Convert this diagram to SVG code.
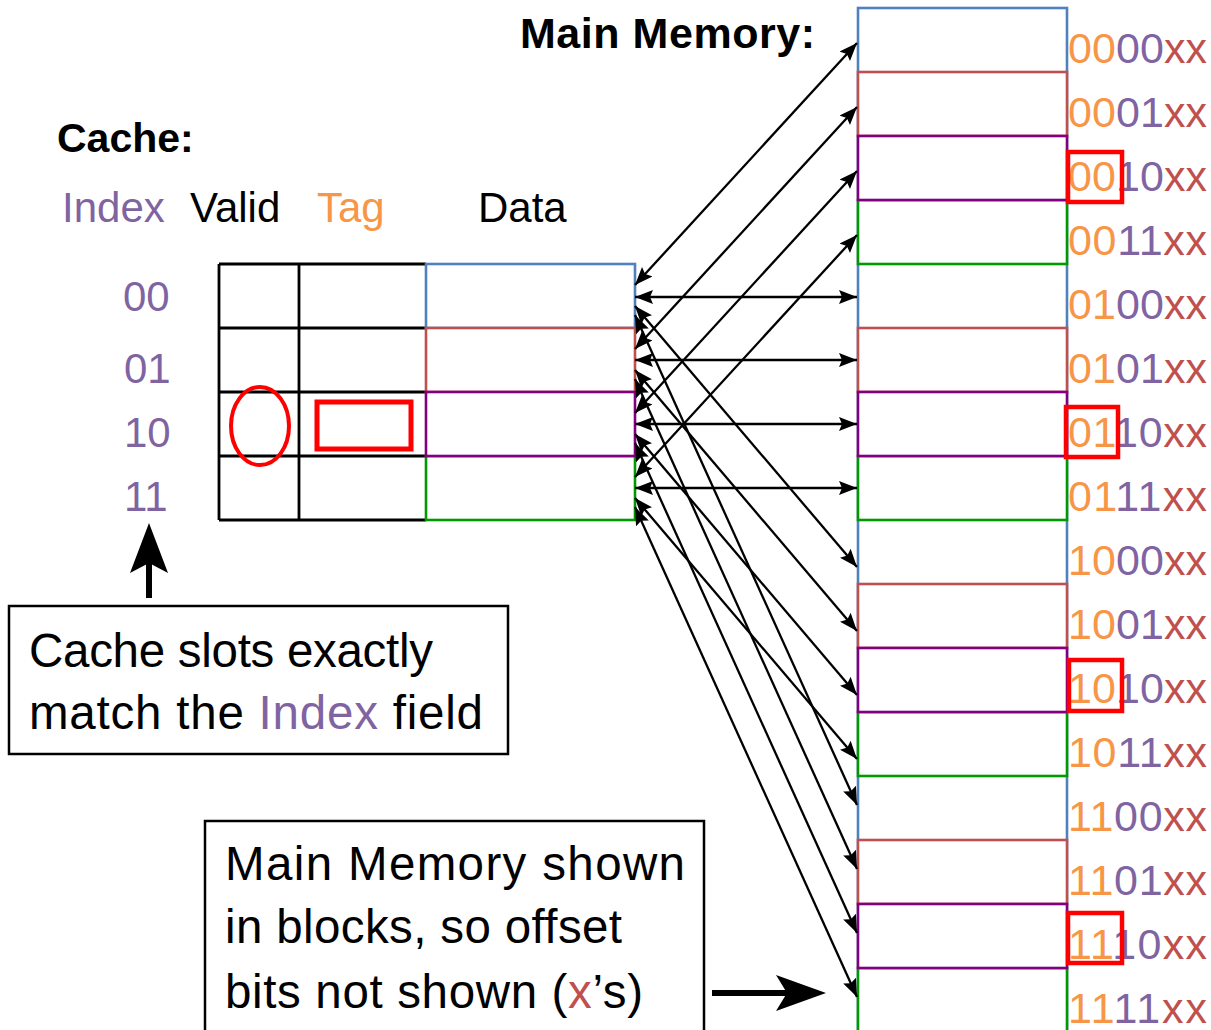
<svg xmlns="http://www.w3.org/2000/svg" width="1211" height="1030" viewBox="0 0 1211 1030">
  <style>
    text { font-family: "Liberation Sans", Arial, sans-serif; fill: #000; }
    .head { font-size: 43px; font-weight: bold; }
    .col { font-size: 42px; }
    .idx { font-size: 42px; fill: #8064A2; }
    .addr { font-size: 43px; }
    .note { font-size: 47.5px; }
    .tagc { fill: #F79646; }
    .idxc { fill: #8064A2; }
    .offc { fill: #C0504D; }
    .grid { fill: none; stroke: #000; stroke-width: 2.8; }
    .blk { fill: #fff; stroke-width: 2.6; }
    .b { stroke: #4F81BD; }
    .r { stroke: #C0504D; }
    .p { stroke: #800080; }
    .g { stroke: #009900; }
    .hl { fill: none; stroke: #FF0000; stroke-width: 4.5; }
    .link { stroke: #000; stroke-width: 2.3; fill: none; marker-start: url(#tip); marker-end: url(#tip); }
    .box { fill: #fff; stroke: #000; stroke-width: 2.5; }
  </style>
  <defs>
    <marker id="tip" markerUnits="userSpaceOnUse" markerWidth="19" markerHeight="15" refX="18" refY="7" orient="auto-start-reverse">
      <path d="M0,0 L18,7 L0,14 L3,7 z" fill="#000"/>
    </marker>
  </defs>

  <rect width="1211" height="1030" fill="#fff"/>

  <!-- headings -->
  <text class="head" x="520" y="48" textLength="295" lengthAdjust="spacing">Main Memory:</text>
  <text class="head" x="57" y="152" style="font-size:41px">Cache:</text>
  <text class="col idxc" x="62" y="222">Index</text>
  <text class="col" x="190" y="222">Valid</text>
  <text class="col tagc" x="317" y="222">Tag</text>
  <text class="col" x="478" y="222">Data</text>

  <!-- cache index labels -->
  <g id="cache-index">
    <text class="idx" x="123" y="311">00</text>
    <text class="idx" x="124" y="383">01</text>
    <text class="idx" x="124" y="447">10</text>
    <text class="idx" x="124" y="511">11</text>
  </g>

  <!-- cache table -->
  <g id="cache">
    <path class="grid" d="M219,264 H426 M219,328 H426 M219,392 H426 M219,456 H426 M219,520 H426 M219,264 V520 M299,264 V520"/>
    <rect class="blk b" x="426" y="264" width="209" height="64"/>
    <rect class="blk r" x="426" y="328" width="209" height="64"/>
    <rect class="blk g" x="426" y="456" width="209" height="64"/>
    <rect class="blk p" x="426" y="392" width="209" height="64"/>
    <ellipse class="hl" cx="260" cy="426" rx="29" ry="39" style="stroke-width:4"/>
    <rect class="hl" x="317" y="402" width="94" height="47" style="stroke-width:5"/>
  </g>

  <!-- main memory blocks -->
  <g id="memory">
    <rect class="blk b" x="858" y="8" width="209" height="1030"/>
    <rect class="blk r" x="858" y="72" width="209" height="64"/>
    <rect class="blk r" x="858" y="328" width="209" height="64"/>
    <rect class="blk r" x="858" y="584" width="209" height="64"/>
    <rect class="blk r" x="858" y="840" width="209" height="64"/>
    <rect class="blk g" x="858" y="200" width="209" height="64"/>
    <rect class="blk g" x="858" y="456" width="209" height="64"/>
    <rect class="blk g" x="858" y="712" width="209" height="64"/>
    <rect class="blk g" x="858" y="968" width="209" height="64"/>
    <rect class="blk p" x="858" y="136" width="209" height="64"/>
    <rect class="blk p" x="858" y="392" width="209" height="64"/>
    <rect class="blk p" x="858" y="648" width="209" height="64"/>
    <rect class="blk p" x="858" y="904" width="209" height="64"/>
  </g>

  <!-- block addresses: tag, index, offset -->
  <g id="addresses">
    <text class="addr" x="1068" y="63" textLength="139"><tspan class="tagc">00</tspan><tspan class="idxc">00</tspan><tspan class="offc">xx</tspan></text>
    <text class="addr" x="1068" y="127" textLength="139"><tspan class="tagc">00</tspan><tspan class="idxc">01</tspan><tspan class="offc">xx</tspan></text>
    <text class="addr" x="1068" y="191" textLength="139"><tspan class="tagc">00</tspan><tspan class="idxc">10</tspan><tspan class="offc">xx</tspan></text>
    <text class="addr" x="1068" y="255" textLength="139"><tspan class="tagc">00</tspan><tspan class="idxc">11</tspan><tspan class="offc">xx</tspan></text>
    <text class="addr" x="1068" y="319" textLength="139"><tspan class="tagc">01</tspan><tspan class="idxc">00</tspan><tspan class="offc">xx</tspan></text>
    <text class="addr" x="1068" y="383" textLength="139"><tspan class="tagc">01</tspan><tspan class="idxc">01</tspan><tspan class="offc">xx</tspan></text>
    <text class="addr" x="1068" y="447" textLength="139"><tspan class="tagc">01</tspan><tspan class="idxc">10</tspan><tspan class="offc">xx</tspan></text>
    <text class="addr" x="1068" y="511" textLength="139"><tspan class="tagc">01</tspan><tspan class="idxc">11</tspan><tspan class="offc">xx</tspan></text>
    <text class="addr" x="1068" y="575" textLength="139"><tspan class="tagc">10</tspan><tspan class="idxc">00</tspan><tspan class="offc">xx</tspan></text>
    <text class="addr" x="1068" y="639" textLength="139"><tspan class="tagc">10</tspan><tspan class="idxc">01</tspan><tspan class="offc">xx</tspan></text>
    <text class="addr" x="1068" y="703" textLength="139"><tspan class="tagc">10</tspan><tspan class="idxc">10</tspan><tspan class="offc">xx</tspan></text>
    <text class="addr" x="1068" y="767" textLength="139"><tspan class="tagc">10</tspan><tspan class="idxc">11</tspan><tspan class="offc">xx</tspan></text>
    <text class="addr" x="1068" y="831" textLength="139"><tspan class="tagc">11</tspan><tspan class="idxc">00</tspan><tspan class="offc">xx</tspan></text>
    <text class="addr" x="1068" y="895" textLength="139"><tspan class="tagc">11</tspan><tspan class="idxc">01</tspan><tspan class="offc">xx</tspan></text>
    <text class="addr" x="1068" y="959" textLength="139"><tspan class="tagc">11</tspan><tspan class="idxc">10</tspan><tspan class="offc">xx</tspan></text>
    <text class="addr" x="1068" y="1023" textLength="139"><tspan class="tagc">11</tspan><tspan class="idxc">11</tspan><tspan class="offc">xx</tspan></text>
    <rect class="hl" x="1068" y="152" width="54" height="50"/>
    <rect class="hl" x="1066" y="407" width="52" height="50"/>
    <rect class="hl" x="1069" y="660" width="53" height="51"/>
    <rect class="hl" x="1068" y="913" width="54" height="50"/>
  </g>

  <!-- block-to-slot mappings -->
  <g id="connectors">
    <line class="link" x1="635" y1="285" x2="857" y2="43"/>
    <line class="link" x1="635" y1="297" x2="857" y2="297"/>
    <line class="link" x1="635" y1="306" x2="857" y2="567"/>
    <line class="link" x1="635" y1="315" x2="857" y2="805"/>
    <line class="link" x1="635" y1="349" x2="857" y2="107"/>
    <line class="link" x1="635" y1="360" x2="857" y2="360"/>
    <line class="link" x1="635" y1="370" x2="857" y2="631"/>
    <line class="link" x1="635" y1="379" x2="857" y2="869"/>
    <line class="link" x1="635" y1="413" x2="857" y2="171"/>
    <line class="link" x1="635" y1="424" x2="857" y2="424"/>
    <line class="link" x1="635" y1="434" x2="857" y2="695"/>
    <line class="link" x1="635" y1="443" x2="857" y2="933"/>
    <line class="link" x1="635" y1="477" x2="857" y2="235"/>
    <line class="link" x1="635" y1="488" x2="857" y2="488"/>
    <line class="link" x1="635" y1="498" x2="857" y2="759"/>
    <line class="link" x1="635" y1="507" x2="857" y2="997"/>
    <!-- callout arrows -->
    <path d="M146,598 V563 H152 V598 z" fill="#000"/>
    <path d="M149,523 L168,573 L149,563 L130,573 z" fill="#000"/>
    <path d="M712,990 H790 V996 H712 z" fill="#000"/>
    <path d="M826,993 L776,1011 L787,993 L776,975 z" fill="#000"/>
  </g>

  <!-- notes -->
  <g id="note-index">
    <rect class="box" x="9" y="606" width="499" height="148"/>
    <text class="note" x="29" y="667" textLength="404" lengthAdjust="spacing">Cache slots exactly</text>
    <text class="note" x="29" y="729" textLength="454" lengthAdjust="spacing">match the <tspan class="idxc">Index</tspan> field</text>
  </g>
  <g id="note-blocks">
    <rect class="box" x="205" y="821" width="499" height="230"/>
    <text class="note" x="225" y="880" textLength="460" lengthAdjust="spacing">Main Memory shown</text>
    <text class="note" x="225" y="943" textLength="397" lengthAdjust="spacing">in blocks, so offset</text>
    <text class="note" x="225" y="1008" textLength="418" lengthAdjust="spacing">bits not shown (<tspan class="offc">x</tspan>’s)</text>
  </g>
</svg>
